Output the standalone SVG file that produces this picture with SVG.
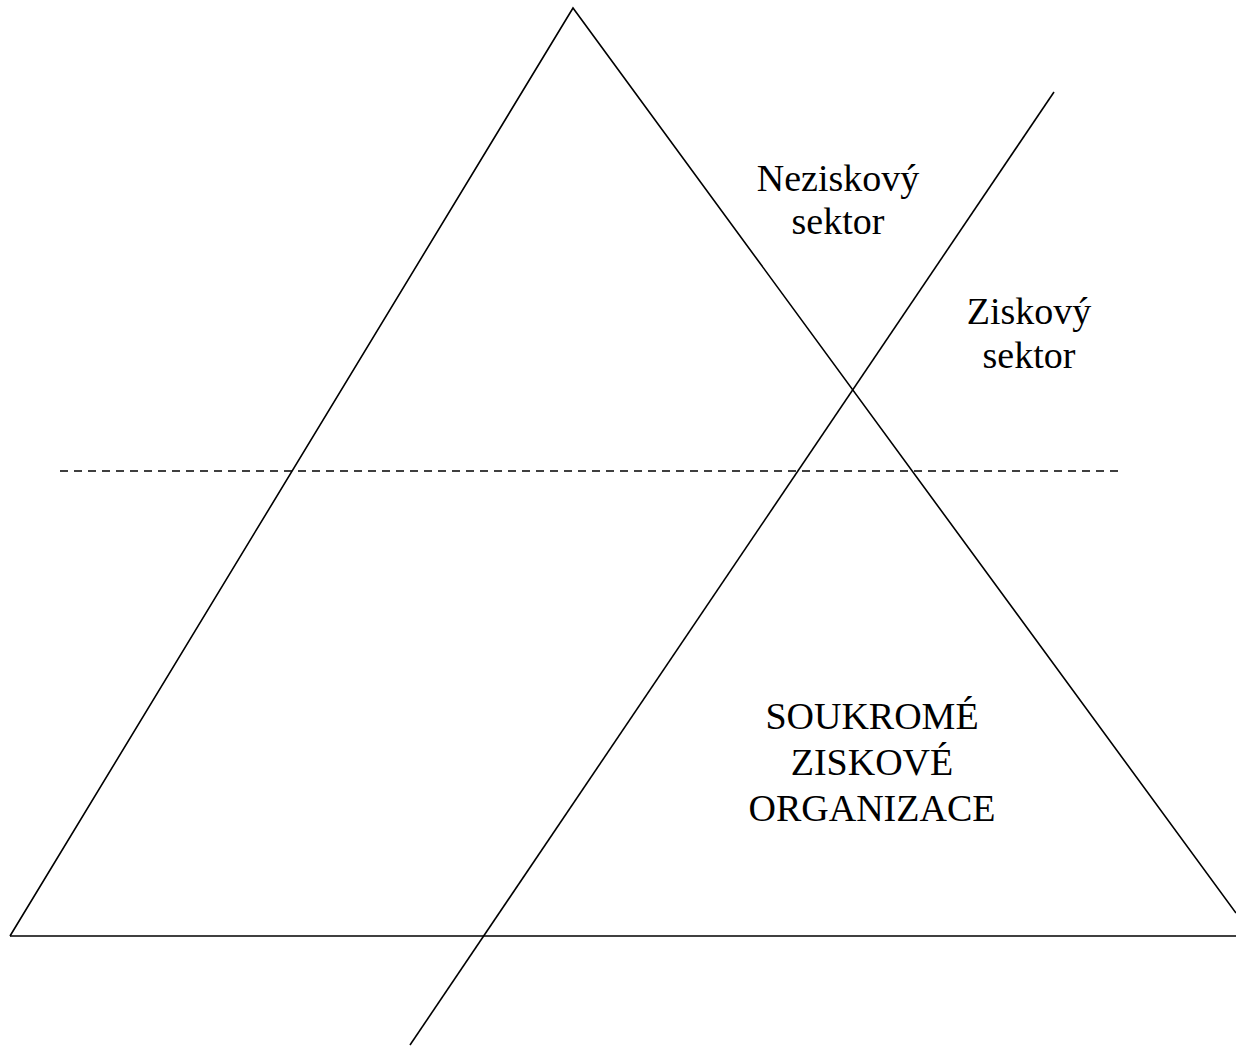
<svg xmlns="http://www.w3.org/2000/svg" width="1236" height="1053" viewBox="0 0 1236 1053">
<style>
.ln{stroke:#000;stroke-width:1.6;fill:none}
.ds{stroke:#000;stroke-width:1.6;fill:none;stroke-dasharray:8,6}
.t{font-family:"Liberation Serif","Times New Roman",serif;font-size:38px;fill:#000;text-anchor:middle}
</style>
<rect width="1236" height="1053" fill="#fff"/>
<g id="connectors">
<polyline class="ln" points="10,936 573,8 1236,913"/>
<line class="ln" x1="10" y1="936" x2="1236" y2="936"/>
<line class="ln" x1="1054" y1="92" x2="410" y2="1045"/>
<line class="ds" x1="60" y1="471" x2="1124" y2="471"/>
</g>
<g id="neziskovy">
<text class="t" x="838" y="191">Neziskový</text>
<text class="t" x="838" y="234">sektor</text>
</g>
<g id="ziskovy">
<text class="t" x="1029" y="324">Ziskový</text>
<text class="t" x="1029" y="368">sektor</text>
</g>
<g id="soukrome">
<text class="t" x="872" y="729">SOUKROMÉ</text>
<text class="t" x="872" y="775">ZISKOVÉ</text>
<text class="t" x="872" y="821">ORGANIZACE</text>
</g>
</svg>
